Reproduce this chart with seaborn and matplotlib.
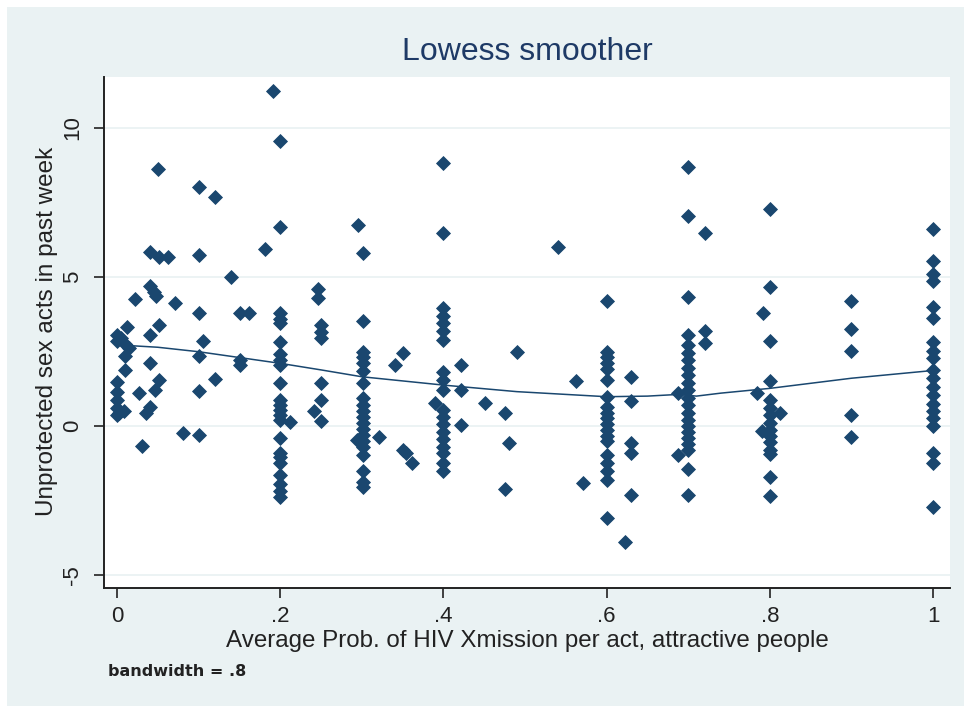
import matplotlib
matplotlib.use("Agg")
import matplotlib.pyplot as plt
import seaborn as sns
import pandas as pd
from matplotlib.patches import Rectangle

# ---------------- data ----------------
prob = [
    # x ~ 0
    0.0, 0.0, 0.005, 0.01, 0.012, 0.015, 0.01, 0.01, 0.0, 0.0, 0.0, 0.0, 0.003, 0.008, 0.0, 0.022,
    # x ~ 0.03-0.08
    0.027, 0.031, 0.036, 0.041, 0.041, 0.041, 0.041, 0.045, 0.048, 0.041, 0.051, 0.062, 0.051, 0.051, 0.047, 0.05, 0.071, 0.081,
    # x ~ 0.1-0.19
    0.1, 0.1, 0.1, 0.106, 0.1, 0.1, 0.1, 0.12, 0.12, 0.14, 0.151, 0.162, 0.151, 0.151, 0.181, 0.191,
    # x = 0.2
    0.2, 0.2, 0.2, 0.2, 0.2, 0.2, 0.2, 0.2, 0.2, 0.2, 0.2, 0.2, 0.2, 0.2, 0.2, 0.2, 0.2, 0.2, 0.2, 0.2, 0.2, 0.2, 0.2, 0.212,
    # x = 0.25
    0.246, 0.246, 0.25, 0.25, 0.25, 0.25, 0.25, 0.241, 0.25,
    # x = 0.3
    0.295, 0.302, 0.302, 0.302, 0.302, 0.302, 0.302, 0.302, 0.302, 0.302, 0.302, 0.302, 0.302, 0.302, 0.302,
    0.302, 0.302, 0.302, 0.302, 0.302, 0.302, 0.294, 0.321,
    # x ~ 0.35
    0.341, 0.351, 0.351, 0.354, 0.361,
    # x = 0.4
    0.4, 0.4, 0.4, 0.4, 0.4, 0.4, 0.4, 0.4, 0.4, 0.4, 0.4, 0.4, 0.4, 0.4, 0.4, 0.4, 0.4, 0.4, 0.4, 0.39,
    # x ~ 0.42-0.57
    0.422, 0.422, 0.422, 0.451, 0.476, 0.48, 0.476, 0.49, 0.54, 0.562, 0.571,
    # x = 0.6
    0.6, 0.6, 0.6, 0.6, 0.6, 0.6, 0.6, 0.6, 0.6, 0.6, 0.6, 0.6, 0.6, 0.6, 0.6, 0.6, 0.6, 0.6, 0.6,
    0.623, 0.63, 0.63, 0.63, 0.63, 0.63,
    # x = 0.7
    0.7, 0.7, 0.7, 0.7, 0.7, 0.7, 0.7, 0.7, 0.7, 0.7, 0.7, 0.7, 0.7, 0.7, 0.7, 0.7, 0.7, 0.7, 0.7, 0.7, 0.7, 0.7,
    0.687, 0.687, 0.721, 0.721, 0.721,
    # x = 0.8
    0.8, 0.8, 0.8, 0.8, 0.8, 0.8, 0.8, 0.8, 0.8, 0.8, 0.8, 0.8, 0.8, 0.8, 0.8, 0.792, 0.784, 0.812, 0.79,
    # x = 0.9
    0.9, 0.9, 0.9, 0.9, 0.9,
    # x = 1
    1.0, 1.0, 1.0, 1.0, 1.0, 1.0, 1.0, 1.0, 1.0, 1.0, 1.0, 1.0, 1.0, 1.0, 1.0, 1.0, 1.0, 1.0, 1.0, 1.0,
]
acts = [
    3.05, 2.85, 2.95, 2.75, 3.33, 2.6, 2.33, 1.88, 1.49, 1.15, 0.87, 0.6, 0.45, 0.5, 0.35, 4.26,
    1.1, -0.66, 0.43, 0.65, 2.1, 3.05, 4.7, 4.5, 4.35, 5.82, 5.66, 5.66, 3.39, 1.54, 1.2, 8.62, 4.14, -0.25,
    8.02, 5.74, 3.79, 2.86, 2.33, 1.18, -0.3, 7.68, 1.58, 5.0, 3.79, 3.79, 2.2, 2.05, 5.94, 11.24,
    9.57, 6.68, 3.78, 3.6, 3.45, 2.83, 2.4, 2.2, 2.05, 1.43, 0.87, 0.7, 0.55, 0.35, 0.2, -0.41, -0.9, -1.05,
    -1.24, -1.64, -1.95, -2.2, -2.38, 0.14,
    4.6, 4.3, 3.38, 3.15, 2.95, 1.43, 0.87, 0.5, 0.17,
    6.74, 5.79, 3.52, 2.49, 2.3, 2.1, 1.83, 1.43, 0.94, 0.7, 0.5, 0.3, 0.1, -0.1, -0.3,
    -0.5, -0.7, -0.97, -1.53, -1.87, -2.04, -0.47, -0.36,
    2.05, 2.46, -0.8, -0.9, -1.25,
    8.81, 6.46, 3.95, 3.7, 3.45, 3.2, 2.9, 1.82, 1.55, 1.2, 0.54, 0.3, 0.05, -0.2, -0.45, -0.7, -0.9, -1.25, -1.53, 0.76,
    2.05, 1.2, 0.03, 0.76, 0.43, -0.58, -2.13, 2.49, 6.0, 1.51, -1.92,
    4.2, 2.49, 2.3, 2.1, 1.9, 1.55, 0.98, 0.65, 0.45, 0.25, 0.05, -0.15, -0.35, -0.5, -0.97, -1.25, -1.5, -1.8, -3.08,
    -3.88, 1.63, 0.82, -0.58, -0.92, -2.32,
    8.68, 7.03, 4.32, 3.05, 2.7, 2.45, 2.2, 1.95, 1.7, 1.45, 1.2, 0.95, 0.7, 0.45, 0.2, 0.0, -0.2, -0.4, -0.6, -0.8,
    -1.45, -2.32,
    1.1, -0.97, 6.47, 3.2, 2.78,
    7.27, 4.65, 2.85, 1.51, 0.87, 0.6, 0.35, 0.1, -0.15, -0.35, -0.55, -0.8, -0.95, -1.73, -2.34, 3.78, 1.1, 0.43, -0.16,
    4.2, 3.25, 2.52, 0.35, -0.36,
    6.6, 5.54, 5.1, 4.85, 3.98, 3.62, 2.83, 2.5, 2.27, 1.88, 1.6, 1.3, 1.05, 0.75, 0.5, 0.25, 0.0, -0.92, -1.25, -2.73,
]

# lowess curve
smooth_x = [0.0, 0.05, 0.1, 0.2, 0.25, 0.3, 0.4, 0.49, 0.6, 0.65, 0.69, 0.71, 0.74, 0.8, 0.9, 1.0]
smooth_y = [2.72, 2.64, 2.49, 2.1, 1.88, 1.65, 1.37, 1.15, 0.98, 1.0, 1.06, 1.0, 1.1, 1.26, 1.6, 1.86]

x_ticks = [0, 0.2, 0.4, 0.6, 0.8, 1.0]
x_ticklabels = ["0", ".2", ".4", ".6", ".8", "1"]
y_ticks = [-5, 0, 5, 10]
y_ticklabels = ["-5", "0", "5", "10"]

title = "Lowess smoother"
xlabel = "Average Prob. of HIV Xmission per act, attractive people"
ylabel = "Unprotected sex acts in past week"
note = "bandwidth = .8"

# ---------------- styling ----------------
sns.set_theme(style="white")
plt.rcParams["font.family"] = ["Liberation Sans", "DejaVu Sans"]

BG = "#EAF2F3"
NAVY = "#1A476F"
W, H = 964, 706

fig = plt.figure(figsize=(W / 100, H / 100), dpi=100, facecolor="white")
fig.patches.append(Rectangle((7 / W, 0), 1 - 7 / W, 1 - 7 / H, transform=fig.transFigure,
                             facecolor=BG, edgecolor="none", zorder=-10))

left, right, top, bottom = 104, 950, 77, 588
ax = fig.add_axes([left / W, 1 - bottom / H, (right - left) / W, (bottom - top) / H])
ax.set_facecolor("white")

df = pd.DataFrame({"prob": prob, "acts": acts})
sm = pd.DataFrame({"x": smooth_x, "y": smooth_y})

sns.scatterplot(data=df, x="prob", y="acts", ax=ax, marker="D", s=50, color=NAVY,
                linewidth=0.6, edgecolor=NAVY, zorder=3)
sns.lineplot(data=sm, x="x", y="y", ax=ax, color=NAVY, linewidth=1.1, zorder=4)

ax.set_xlim(-0.0159, 1.0208)
ax.set_ylim(-5.44, 11.71)

ax.set_xticks(x_ticks)
ax.set_xticklabels(x_ticklabels)
ax.set_yticks(y_ticks)
ax.set_yticklabels(y_ticklabels, rotation=90, va="center")

for yv in y_ticks:
    ax.axhline(yv, color=BG, linewidth=1.3, zorder=1)

for s in ["top", "right"]:
    ax.spines[s].set_visible(False)
for s in ["left", "bottom"]:
    ax.spines[s].set_color("#222222")
    ax.spines[s].set_linewidth(1.4)

ax.tick_params(axis="both", which="major", direction="out", length=7, width=1.2,
               color="#222222", labelsize=16, labelcolor="#222222", pad=8,
               bottom=True, left=True)
ax.tick_params(axis="x", pad=6)

ax.set_xlabel("")
ax.set_ylabel("")
fig.text((left + right) / 2 / W, 1 - 641 / H, xlabel, ha="center", va="center",
         fontsize=17.4, color="#222222")
fig.text(47 / W, 1 - 331 / H, ylabel, ha="center", va="center", rotation=90,
         fontsize=17.5, color="#222222")
fig.text(527 / W, 1 - 52 / H, title, ha="center", va="center", fontsize=23, color="#1E3A66")
fig.text(108 / W, 1 - 672 / H, note, ha="left", va="center", fontsize=11.5,
         fontweight="bold", family=["DejaVu Sans"], color="#222222")

fig.savefig("out.png", dpi=100, facecolor=fig.get_facecolor())
